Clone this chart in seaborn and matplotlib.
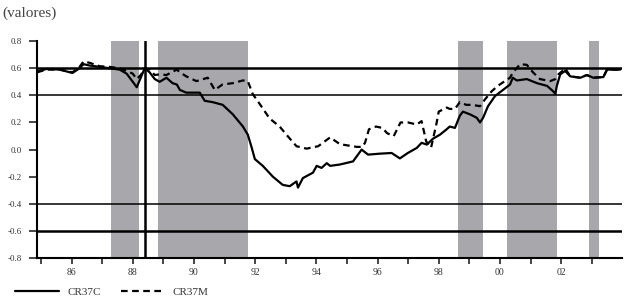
import matplotlib
matplotlib.use("Agg")
import matplotlib.pyplot as plt
import seaborn as sns
import pandas as pd

# ---- data ----
years_c = [1984.87, 1985.18, 1985.61, 1986.03, 1986.26, 1986.39, 1986.59, 1986.92, 1987.24, 1987.57,
           1987.80, 1988.00, 1988.13, 1988.26, 1988.39, 1988.55, 1988.72, 1988.88, 1989.10, 1989.30,
           1989.44, 1989.54, 1989.75, 1989.96, 1990.19, 1990.35, 1990.61, 1990.94, 1991.27, 1991.60,
           1991.76, 1991.88, 1991.99, 1992.25, 1992.58, 1992.90, 1993.13, 1993.35, 1993.40, 1993.56,
           1993.89, 1994.01, 1994.17, 1994.34, 1994.45, 1994.77, 1995.20, 1995.48, 1995.69, 1996.08,
           1996.46, 1996.73, 1996.99, 1997.28, 1997.44, 1997.61, 1997.81, 1998.04, 1998.26, 1998.36,
           1998.53, 1998.69, 1998.79, 1999.02, 1999.24, 1999.35, 1999.45, 1999.61, 1999.84, 2000.10,
           2000.33, 2000.42, 2000.55, 2000.88, 2001.21, 2001.54, 2001.74, 2001.81, 2001.86, 2001.97,
           2002.13, 2002.30, 2002.63, 2002.84, 2003.05, 2003.38, 2003.50, 2003.70, 2003.93]
cr37c = [0.575, 0.595, 0.59, 0.565, 0.60, 0.63, 0.62, 0.61, 0.60, 0.59,
         0.56, 0.50, 0.46, 0.53, 0.60, 0.57, 0.52, 0.50, 0.53, 0.49,
         0.48, 0.44, 0.42, 0.42, 0.42, 0.36, 0.35, 0.33, 0.26, 0.17,
         0.11, 0.02, -0.07, -0.12, -0.20, -0.26, -0.27, -0.235, -0.28, -0.21,
         -0.17, -0.12, -0.135, -0.10, -0.12, -0.11, -0.087, 0.00, -0.037, -0.03,
         -0.025, -0.065, -0.025, 0.012, 0.05, 0.037, 0.08, 0.11, 0.15, 0.17,
         0.16, 0.25, 0.28, 0.26, 0.235, 0.20, 0.235, 0.32, 0.395, 0.44,
         0.48, 0.53, 0.51, 0.52, 0.49, 0.47, 0.43, 0.41, 0.47, 0.555,
         0.58, 0.54, 0.53, 0.55, 0.53, 0.535, 0.59, 0.59, 0.59]

years_m = [1984.87, 1985.18, 1985.61, 1986.03, 1986.26, 1986.39, 1986.59, 1986.92, 1987.24, 1987.57,
           1987.80, 1988.00, 1988.13, 1988.26, 1988.39, 1988.55, 1988.72, 1988.88, 1989.10, 1989.44,
           1989.54, 1989.75, 1990.08, 1990.45, 1990.68, 1990.93, 1991.27, 1991.60, 1991.76, 1991.92,
           1992.20, 1992.47, 1992.80, 1993.06, 1993.35, 1993.68, 1994.06, 1994.45, 1994.77, 1995.32,
           1995.50, 1995.59, 1995.72, 1995.95, 1996.15, 1996.32, 1996.53, 1996.75, 1997.00, 1997.28,
           1997.44, 1997.59, 1997.75, 1997.92, 1998.00, 1998.26, 1998.36, 1998.53, 1998.69, 1998.90,
           1999.10, 1999.35, 1999.51, 1999.73, 1999.93, 2000.16, 2000.33, 2000.43, 2000.66, 2000.88,
           2001.08, 2001.31, 2001.64, 2001.81, 2001.91, 2002.07, 2002.13, 2002.30, 2002.63, 2002.84,
           2003.05, 2003.38, 2003.50, 2003.70, 2003.93]
cr37m = [0.57, 0.59, 0.59, 0.57, 0.61, 0.65, 0.64, 0.615, 0.61, 0.60,
         0.58, 0.56, 0.52, 0.55, 0.60, 0.59, 0.55, 0.555, 0.55, 0.59,
         0.57, 0.54, 0.505, 0.53, 0.44, 0.48, 0.49, 0.51, 0.505, 0.41,
         0.32, 0.23, 0.17, 0.10, 0.025, 0.007, 0.025, 0.09, 0.04, 0.02,
         0.02, 0.05, 0.15, 0.17, 0.16, 0.12, 0.10, 0.20, 0.20, 0.185,
         0.21, 0.06, 0.015, 0.185, 0.28, 0.31, 0.30, 0.30, 0.35, 0.33,
         0.33, 0.32, 0.37, 0.43, 0.47, 0.505, 0.53, 0.57, 0.63, 0.625,
         0.57, 0.52, 0.505, 0.52, 0.555, 0.585, 0.60, 0.54, 0.53, 0.55,
         0.53, 0.535, 0.59, 0.59, 0.59]

shaded = [(1987.28, 1988.19), (1988.81, 1991.77), (1998.64, 1999.44), (2000.23, 2001.87), (2002.90, 2003.23)]
vline_year = 1988.40
hlines_thick = [0.6, -0.6]
hlines_thin = [0.4, -0.4]
xtick_years = list(range(1985, 2004))
xlabel_years = list(range(1986, 2003, 2))
yticks = [0.8, 0.6, 0.4, 0.2, 0.0, -0.2, -0.4, -0.6, -0.8]

df_c = pd.DataFrame({"year": years_c, "value": cr37c})
df_m = pd.DataFrame({"year": years_m, "value": cr37m})

sns.set_style("white")
plt.rcParams["font.family"] = ["Liberation Serif", "DejaVu Serif"]

fig = plt.figure(figsize=(6.24, 2.98), dpi=100)
ax = fig.add_axes([0.0593, 0.134, 0.938, 0.728])

for a, b in shaded:
    ax.axvspan(a, b, color="#a8a8ac", lw=0, zorder=0)

for h in hlines_thick:
    ax.axhline(h, color="black", lw=1.8, zorder=2)
for h in hlines_thin:
    ax.axhline(h, color="black", lw=1.1, zorder=2)
ax.axvline(vline_year, color="black", lw=1.8, zorder=2)

sns.lineplot(data=df_m, x="year", y="value", ax=ax, color="black", lw=1.6,
             linestyle=(0, (3, 2)), label="CR37M", zorder=3)
sns.lineplot(data=df_c, x="year", y="value", ax=ax, color="black", lw=1.6,
             label="CR37C", zorder=4)

ax.set_xlim(1984.87, 2004.0)
ax.set_ylim(-0.8, 0.8)
ax.set_xlabel("")
ax.set_ylabel("")

ax.set_xticks(xtick_years)
ax.set_xticklabels([f"{y % 100:02d}" if y in xlabel_years else "" for y in xtick_years])
ax.set_yticks(yticks)
ax.set_yticklabels([f"{v:.1f}" for v in yticks])

ax.tick_params(axis="y", direction="out", length=6, width=1.2, pad=5,
               labelsize=6.5, labelcolor="#333333", left=True)
ax.tick_params(axis="x", direction="out", length=4, width=1.2, pad=3.5,
               labelsize=7, labelcolor="#333333", bottom=True)

for s in ["top", "right"]:
    ax.spines[s].set_visible(False)
for s in ["left", "bottom"]:
    ax.spines[s].set_color("black")
    ax.spines[s].set_linewidth(1.5)

handles, labels = ax.get_legend_handles_labels()
order = [labels.index("CR37C"), labels.index("CR37M")]
ax.legend([handles[i] for i in order], [labels[i] for i in order],
          loc="lower left", bbox_to_anchor=(0.008, -0.03), bbox_transform=fig.transFigure,
          ncol=2, frameon=False, fontsize=8, handlelength=4.0, handletextpad=0.7,
          columnspacing=1.8, labelcolor="#333333")

fig.text(0.004, 0.955, "(valores)", fontsize=11, color="#444444", ha="left", va="center")

fig.savefig("out.png", dpi=100)
